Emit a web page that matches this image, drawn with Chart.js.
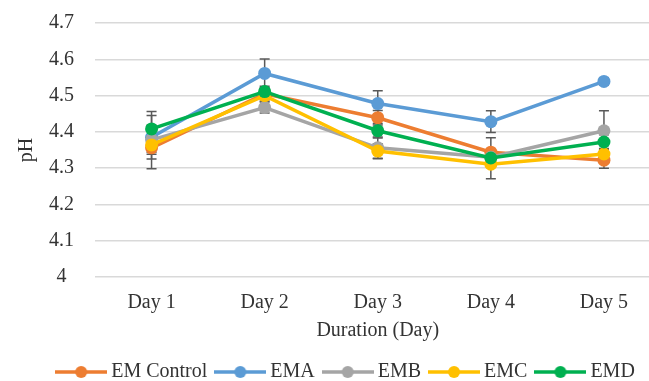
<!DOCTYPE html>
<html>
<head>
<meta charset="utf-8">
<script src="https://cdn.jsdelivr.net/npm/chart.js@4"></script>
<style>
  html, body { margin: 0; padding: 0; background: #fff; overflow: hidden; }
  #wrap { width: 649px; height: 381px; overflow: hidden; }
  canvas { display: block; }
</style>
</head>
<body>
<div id="wrap">
  <canvas id="myChart" width="667" height="381"></canvas>
</div>
<script>
// data
const days = ['Day 1', 'Day 2', 'Day 3', 'Day 4', 'Day 5'];
const seriesNames = ['EM Control', 'EMA', 'EMB', 'EMC', 'EMD'];
const seriesColors = ['#ED7D31', '#5B9BD5', '#A5A5A5', '#FFC000', '#00B050'];

const emControl = [4.356, 4.505, 4.439, 4.344, 4.322];
const ema       = [4.385, 4.561, 4.478, 4.428, 4.539];
const emb       = [4.378, 4.467, 4.356, 4.330, 4.403];
const emc       = [4.364, 4.500, 4.347, 4.311, 4.339];
const emd       = [4.408, 4.511, 4.403, 4.328, 4.372];

// +/- error for each point
const emControlErr = [0.058, 0.015, 0.020, 0.040, 0.022];
const emaErr       = [0.060, 0.040, 0.035, 0.030, 0.010];
const embErr       = [0.040, 0.015, 0.030, 0.020, 0.055];
const emcErr       = [0.020, 0.015, 0.020, 0.040, 0.015];
const emdErr       = [0.048, 0.015, 0.020, 0.020, 0.020];

const yMin = 4.0;
const yMax = 4.7;
const yStep = 0.1;

const allValues = [emControl, ema, emb, emc, emd];
const allErrors = [emControlErr, emaErr, embErr, emcErr, emdErr];

Chart.defaults.font.family = '"Liberation Serif", "Times New Roman", serif';
Chart.defaults.font.size = 20;
Chart.defaults.color = '#333333';

// little line+dot picture for each legend entry
function legendMarker(color) {
    const c = document.createElement('canvas');
    c.width = 52;
    c.height = 14;
    const g = c.getContext('2d');
    g.strokeStyle = color;
    g.lineWidth = 3.5;
    g.beginPath();
    g.moveTo(0, 7);
    g.lineTo(52, 7);
    g.stroke();
    g.fillStyle = color;
    g.beginPath();
    g.arc(26, 7, 6, 0, Math.PI * 2);
    g.fill();
    return c;
}
const markers = seriesColors.map(legendMarker);

// error bars, drawn under the lines
const errorBars = {
    id: 'errorBars',
    beforeDatasetsDraw(chart) {
        const ctx = chart.ctx;
        const x = chart.scales.x;
        const y = chart.scales.y;
        ctx.save();
        ctx.strokeStyle = '#595959';
        ctx.lineWidth = 1.5;
        allValues.forEach((vals, s) => {
            vals.forEach((v, i) => {
                const e = allErrors[s][i];
                const px = x.getPixelForValue(i);
                const top = y.getPixelForValue(v + e);
                const bot = y.getPixelForValue(v - e);
                ctx.beginPath();
                ctx.moveTo(px, top);
                ctx.lineTo(px, bot);
                ctx.moveTo(px - 5, top);
                ctx.lineTo(px + 5, top);
                ctx.moveTo(px - 5, bot);
                ctx.lineTo(px + 5, bot);
                ctx.stroke();
            });
        });
        ctx.restore();
    }
};

// nudge the legend box to where it sits in the picture
const legendNudge = {
    id: 'legendNudge',
    afterLayout(chart) {
        const lg = chart.legend;
        lg.left += 7;
        lg.right += 7;
        lg.top += 1;
        lg.bottom += 1;
    }
};

const datasets = seriesNames.map((name, i) => ({
    label: name,
    data: allValues[i],
    borderColor: seriesColors[i],
    backgroundColor: seriesColors[i],
    borderWidth: 3.5,
    pointRadius: 6.5,
    pointHoverRadius: 6.5,
    pointBorderWidth: 0,
    tension: 0,
    order: seriesNames.length - i
}));

const ctx = document.getElementById('myChart').getContext('2d');
const myChart = new Chart(ctx, {
    type: 'line',
    data: { labels: days, datasets: datasets },
    options: {
        responsive: false,
        animation: false,
        devicePixelRatio: 1,
        layout: { padding: { left: 15, right: 0, top: 23, bottom: -10 } },
        scales: {
            x: {
                offset: true,
                grid: { display: false, drawTicks: false },
                border: { display: false },
                ticks: { padding: 14, color: '#333333' },
                title: {
                    display: true,
                    text: 'Duration (Day)',
                    color: '#333333',
                    padding: { top: 4, bottom: 5 }
                },
                afterFit(scale) {
                    scale.height = 71;
                    scale.paddingLeft = 0;
                    scale.paddingRight = 0;
                }
            },
            y: {
                min: yMin,
                max: yMax,
                grid: { color: '#d9d9d9', lineWidth: 1.5, drawTicks: false },
                border: { display: false },
                ticks: {
                    stepSize: yStep,
                    padding: 21,
                    crossAlign: 'center',
                    color: '#333333',
                    callback: (v) => String(Math.round(v * 10) / 10)
                },
                title: {
                    display: true,
                    text: 'pH',
                    color: '#333333',
                    padding: { top: 0, bottom: 0 }
                },
                afterFit(scale) {
                    scale.width = 80;
                    scale.paddingTop = 0;
                    scale.paddingBottom = 0;
                }
            }
        },
        plugins: {
            tooltip: { enabled: false },
            legend: {
                position: 'bottom',
                labels: {
                    usePointStyle: true,
                    pointStyleWidth: 40,
                    padding: 13,
                    color: '#333333',
                    sort: (a, b) => a.datasetIndex - b.datasetIndex,
                    generateLabels(chart) {
                        const items = Chart.defaults.plugins.legend.labels.generateLabels(chart);
                        items.forEach((it) => { it.pointStyle = markers[it.datasetIndex]; });
                        return items;
                    }
                }
            }
        }
    },
    plugins: [errorBars, legendNudge]
});
</script>
</body>
</html>
